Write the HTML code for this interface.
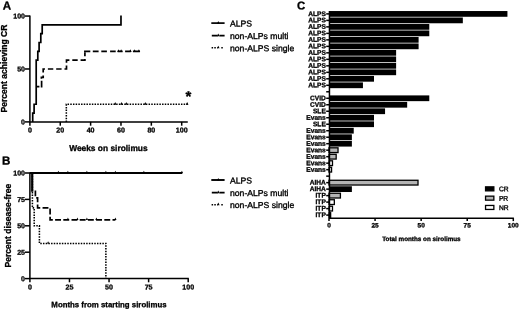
<!DOCTYPE html>
<html><head><meta charset="utf-8"><title>Figure</title>
<style>
html,body{margin:0;padding:0;background:#fff;}
body{width:520px;height:310px;overflow:hidden;}
svg{display:block;font-family:"Liberation Sans",sans-serif;fill:#000;}
text{stroke:#000;stroke-width:0.35;}
.b{font-weight:bold;stroke:#000;stroke-width:0.3;}
.ln{fill:none;stroke:#000;stroke-width:1.7;}
.ax{fill:none;stroke:#000;stroke-width:1.5;}
</style></head><body>
<svg width="520" height="310" viewBox="0 0 520 310">
<rect width="520" height="310" fill="#fff"/>

<text x="2.7" y="9.45" font-size="11.6" text-anchor="start" class="b" transform="rotate(0.03 2.7 9.45)">A</text>
<path class="ax" d="M29.9,15.450000000000001 V121.9 H187.77"/>
<line class="ax" x1="24.9" y1="121.9" x2="29.9" y2="121.9"/>
<text x="25.0" y="124.45" font-size="7.05" text-anchor="end" class="b" transform="rotate(0.03 25.0 124.45)">0</text>
<line class="ax" x1="24.9" y1="68.98" x2="29.9" y2="68.98"/>
<text x="25.0" y="71.53" font-size="7.05" text-anchor="end" class="b" transform="rotate(0.03 25.0 71.53)">50</text>
<line class="ax" x1="24.9" y1="16.05" x2="29.9" y2="16.05"/>
<text x="25.0" y="18.6" font-size="7.05" text-anchor="end" class="b" transform="rotate(0.03 25.0 18.6)">100</text>
<line class="ax" x1="29.9" y1="121.9" x2="29.9" y2="125.7"/>
<text x="29.9" y="132.6" font-size="7.1" text-anchor="middle" class="b" transform="rotate(0.03 29.9 132.6)">0</text>
<line class="ax" x1="60.26" y1="121.9" x2="60.26" y2="125.7"/>
<text x="60.26" y="132.6" font-size="7.1" text-anchor="middle" class="b" transform="rotate(0.03 60.26 132.6)">20</text>
<line class="ax" x1="90.62" y1="121.9" x2="90.62" y2="125.7"/>
<text x="90.62" y="132.6" font-size="7.1" text-anchor="middle" class="b" transform="rotate(0.03 90.62 132.6)">40</text>
<line class="ax" x1="120.98" y1="121.9" x2="120.98" y2="125.7"/>
<text x="120.98" y="132.6" font-size="7.1" text-anchor="middle" class="b" transform="rotate(0.03 120.98 132.6)">60</text>
<line class="ax" x1="151.34" y1="121.9" x2="151.34" y2="125.7"/>
<text x="151.34" y="132.6" font-size="7.1" text-anchor="middle" class="b" transform="rotate(0.03 151.34 132.6)">80</text>
<line class="ax" x1="181.7" y1="121.9" x2="181.7" y2="125.7"/>
<text x="181.7" y="132.6" font-size="7.1" text-anchor="middle" class="b" transform="rotate(0.03 181.7 132.6)">100</text>
<text x="108.4" y="151.0" font-size="8.4" text-anchor="middle" class="b" transform="rotate(0.03 108.4 151.0)">Weeks on sirolimus</text>
<text class="b" font-size="8.55" text-anchor="middle" transform="translate(7.0,68.5) rotate(-90)">Percent achieving CR</text>
<path class="ln" d="M32.7,121.9 L32.7,113.08 L34.1,113.08 L34.1,104.26 L36.2,104.26 L36.2,60.15 L37.8,60.15 L37.8,51.33 L39.1,51.33 L39.1,42.51 L40.8,42.51 L40.8,33.69 L42.2,33.69 L42.2,24.87 L120.98,24.87 L120.98,15.450000000000001"/>
<path class="ln" d="M36.2,86.65 H39.4 M41.6,87.45 V80.65 M41.4,78.7 V77.3 H43.2 V75.6"/>
<path class="ln" d="M43.2,72.6 L43.2,68.98 L66.5,68.98 L66.5,60.19 L84.9,60.19 L84.9,52.15" stroke-dasharray="5.4 2.9"/>
<path class="ln" d="M84.05,51.3 H90.3 M92.8,51.3 H98.6 M101.3,51.3 H106.9 M110.1,51.3 H115.7 M117.6,51.3 H122.6 M125.1,51.3 H130.8 M132.9,51.3 H139.9"/>
<path class="ln" d="M66.33,121.9 L66.33,104.22 L187.77,104.22" stroke-dasharray="1.5 1.2" style="stroke-width:1.55"/>
<path d="M117.25,51.9 l1.3,-2.7 l1.3,2.7 z" fill="#000"/>
<path d="M119.83,51.9 l1.3,-2.7 l1.3,2.7 z" fill="#000"/>
<path d="M129.09,51.9 l1.3,-2.7 l1.3,2.7 z" fill="#000"/>
<path d="M133.34,51.9 l1.3,-2.7 l1.3,2.7 z" fill="#000"/>
<path d="M137.59,51.9 l1.3,-2.7 l1.3,2.7 z" fill="#000"/>
<path d="M113.91,104.82 l1.3,-2.7 l1.3,2.7 z" fill="#000"/>
<path d="M120.14,104.82 l1.3,-2.7 l1.3,2.7 z" fill="#000"/>
<path d="M124.99000000000001,104.82 l1.3,-2.7 l1.3,2.7 z" fill="#000"/>
<path d="M143.97,104.82 l1.3,-2.7 l1.3,2.7 z" fill="#000"/>
<path d="M185.85999999999999,104.82 l1.3,-2.7 l1.3,2.7 z" fill="#000"/>
<text x="188.3" y="101.5" font-size="15" text-anchor="middle" class="b" transform="rotate(0.03 188.3 101.5)">*</text>
<path class="ln" d="M211.3,23.1 H224.6" style="stroke-width:1.7"/>
<path class="ln" d="M211.8,35.650000000000006 H217.7 M219.4,35.650000000000006 H224.6"/>
<path class="ln" d="M211.6,47.75 H217.6 M221.3,47.75 H223" stroke-dasharray="1.5 1.2" style="stroke-width:1.55"/>
<path d="M217.0,23.7 l1.3,-2.7 l1.3,2.7 z" fill="#000"/>
<text x="230" y="26.5" font-size="8.64" text-anchor="start" transform="rotate(0.03 230 23.1)">ALPS</text>
<path d="M217.0,36.25 l1.3,-2.7 l1.3,2.7 z" fill="#000"/>
<text x="230" y="39.05" font-size="8.64" text-anchor="start" transform="rotate(0.03 230 35.65)">non-ALPs multi</text>
<path d="M217.0,48.35 l1.3,-2.7 l1.3,2.7 z" fill="#000"/>
<text x="230" y="51.15" font-size="8.64" text-anchor="start" transform="rotate(0.03 230 47.75)">non-ALPS single</text>
<text x="2.1" y="164.5" font-size="11.6" text-anchor="start" class="b" transform="rotate(0.03 2.1 164.5)">B</text>
<path class="ax" d="M29.9,172.4 V278.6 H188.79999999999998"/>
<line class="ax" x1="24.9" y1="278.6" x2="29.9" y2="278.6"/>
<text x="25.0" y="281.15000000000003" font-size="7.05" text-anchor="end" class="b" transform="rotate(0.03 25.0 281.15000000000003)">0</text>
<line class="ax" x1="24.9" y1="252.2" x2="29.9" y2="252.2"/>
<text x="25.0" y="254.75" font-size="7.05" text-anchor="end" class="b" transform="rotate(0.03 25.0 254.75)">25</text>
<line class="ax" x1="24.9" y1="225.8" x2="29.9" y2="225.8"/>
<text x="25.0" y="228.35000000000002" font-size="7.05" text-anchor="end" class="b" transform="rotate(0.03 25.0 228.35000000000002)">50</text>
<line class="ax" x1="24.9" y1="199.4" x2="29.9" y2="199.4"/>
<text x="25.0" y="201.95000000000002" font-size="7.05" text-anchor="end" class="b" transform="rotate(0.03 25.0 201.95000000000002)">75</text>
<line class="ax" x1="24.9" y1="173.0" x2="29.9" y2="173.0"/>
<text x="25.0" y="175.55" font-size="7.05" text-anchor="end" class="b" transform="rotate(0.03 25.0 175.55)">100</text>
<line class="ax" x1="29.9" y1="278.6" x2="29.9" y2="282.3"/>
<text x="29.9" y="289.4" font-size="7.1" text-anchor="middle" class="b" transform="rotate(0.03 29.9 289.4)">0</text>
<line class="ax" x1="69.47" y1="278.6" x2="69.47" y2="282.3"/>
<text x="69.47" y="289.4" font-size="7.1" text-anchor="middle" class="b" transform="rotate(0.03 69.47 289.4)">25</text>
<line class="ax" x1="109.05" y1="278.6" x2="109.05" y2="282.3"/>
<text x="109.05" y="289.4" font-size="7.1" text-anchor="middle" class="b" transform="rotate(0.03 109.05 289.4)">50</text>
<line class="ax" x1="148.62" y1="278.6" x2="148.62" y2="282.3"/>
<text x="148.62" y="289.4" font-size="7.1" text-anchor="middle" class="b" transform="rotate(0.03 148.62 289.4)">75</text>
<line class="ax" x1="188.2" y1="278.6" x2="188.2" y2="282.3"/>
<text x="188.2" y="289.4" font-size="7.1" text-anchor="middle" class="b" transform="rotate(0.03 188.2 289.4)">100</text>
<text x="109" y="307.2" font-size="7.83" text-anchor="middle" class="b" transform="rotate(0.03 109 307.2)">Months from starting sirolimus</text>
<text class="b" font-size="8.55" text-anchor="middle" transform="translate(10.7,225.6) rotate(-90)">Percent disease-free</text>
<path class="ln" d="M29.9,173.0 H182.34" style="stroke-width:1.9"/>
<path d="M57.29,173.0 l1.1,-2.3 l1.1,2.3 z" fill="#000"/>
<path d="M66.79,173.0 l1.1,-2.3 l1.1,2.3 z" fill="#000"/>
<path d="M85.79,173.0 l1.1,-2.3 l1.1,2.3 z" fill="#000"/>
<path d="M104.78,173.0 l1.1,-2.3 l1.1,2.3 z" fill="#000"/>
<path d="M114.28,173.0 l1.1,-2.3 l1.1,2.3 z" fill="#000"/>
<path d="M142.78,173.0 l1.1,-2.3 l1.1,2.3 z" fill="#000"/>
<path d="M180.77,173.0 l1.1,-2.3 l1.1,2.3 z" fill="#000"/>
<path d="M32.2,173 V191.8" stroke="#000" stroke-width="2.2" fill="none"/>
<path class="ln" d="M35.4,190.4 L35.4,197.8 L37.6,197.8 L37.6,207.85 L50.1,207.85 L50.1,219.89 L115.38,219.89" stroke-dasharray="5.9 2.3"/>
<path d="M66.79,219.89 l1.1,-2.3 l1.1,2.3 z" fill="#000"/>
<path d="M76.29,219.89 l1.1,-2.3 l1.1,2.3 z" fill="#000"/>
<path d="M85.79,219.89 l1.1,-2.3 l1.1,2.3 z" fill="#000"/>
<path d="M95.29,219.89 l1.1,-2.3 l1.1,2.3 z" fill="#000"/>
<path d="M114.28,219.89 l1.1,-2.3 l1.1,2.3 z" fill="#000"/>
<path d="M47.0,243.44 l1.1,-2.3 l1.1,2.3 z" fill="#000"/>
<path class="ln" d="M32.4,173.0 L32.4,207.85 L34.2,207.85 L34.2,225.8 L39.4,225.8 L39.4,243.44 L105.88,243.44 L105.88,278.6" stroke-dasharray="1.5 1.2" style="stroke-width:1.55"/>
<path class="ln" d="M211.3,180.0 H224.6" style="stroke-width:1.9"/>
<path class="ln" d="M211.8,192.55 H217.7 M219.4,192.55 H224.6"/>
<path class="ln" d="M211.6,204.65 H217.6 M221.3,204.65 H223" stroke-dasharray="1.5 1.2" style="stroke-width:1.55"/>
<path d="M217.0,180.6 l1.3,-2.7 l1.3,2.7 z" fill="#000"/>
<text x="230" y="183.4" font-size="8.64" text-anchor="start" transform="rotate(0.03 230 180.0)">ALPS</text>
<path d="M217.0,193.15 l1.3,-2.7 l1.3,2.7 z" fill="#000"/>
<text x="230" y="195.95" font-size="8.64" text-anchor="start" transform="rotate(0.03 230 192.55)">non-ALPs multi</text>
<path d="M217.0,205.25 l1.3,-2.7 l1.3,2.7 z" fill="#000"/>
<text x="230" y="208.05" font-size="8.64" text-anchor="start" transform="rotate(0.03 230 204.65)">non-ALPS single</text>
<text x="296.9" y="9.4" font-size="11.4" text-anchor="start" class="b" transform="rotate(0.03 296.9 9.4)">C</text>
<line class="ax" x1="326.2" y1="13.9" x2="329.0" y2="13.9"/>
<rect x="329.0" y="11.03" width="178.43" height="5.75" fill="#000"/>
<text x="325.8" y="15.9" font-size="6.6" text-anchor="end" class="b" transform="rotate(0.03 329.0 13.9)">ALPS</text>
<line class="ax" x1="326.2" y1="20.39" x2="329.0" y2="20.39"/>
<rect x="329.0" y="17.52" width="133.83" height="5.75" fill="#000"/>
<text x="325.8" y="22.39" font-size="6.6" text-anchor="end" class="b" transform="rotate(0.03 329.0 20.39)">ALPS</text>
<line class="ax" x1="326.2" y1="26.88" x2="329.0" y2="26.88"/>
<rect x="329.0" y="24.01" width="100.29" height="5.75" fill="#000"/>
<text x="325.8" y="28.88" font-size="6.6" text-anchor="end" class="b" transform="rotate(0.03 329.0 26.88)">ALPS</text>
<line class="ax" x1="326.2" y1="33.37" x2="329.0" y2="33.37"/>
<rect x="329.0" y="30.49" width="100.29" height="5.75" fill="#000"/>
<text x="325.8" y="35.37" font-size="6.6" text-anchor="end" class="b" transform="rotate(0.03 329.0 33.37)">ALPS</text>
<line class="ax" x1="326.2" y1="39.86" x2="329.0" y2="39.86"/>
<rect x="329.0" y="36.98" width="89.6" height="5.75" fill="#000"/>
<text x="325.8" y="41.86" font-size="6.6" text-anchor="end" class="b" transform="rotate(0.03 329.0 39.86)">ALPS</text>
<line class="ax" x1="326.2" y1="46.35" x2="329.0" y2="46.35"/>
<rect x="329.0" y="43.48" width="89.6" height="5.75" fill="#000"/>
<text x="325.8" y="48.35" font-size="6.6" text-anchor="end" class="b" transform="rotate(0.03 329.0 46.35)">ALPS</text>
<line class="ax" x1="326.2" y1="52.84" x2="329.0" y2="52.84"/>
<rect x="329.0" y="49.96" width="67.12" height="5.75" fill="#000"/>
<text x="325.8" y="54.84" font-size="6.6" text-anchor="end" class="b" transform="rotate(0.03 329.0 52.84)">ALPS</text>
<line class="ax" x1="326.2" y1="59.33" x2="329.0" y2="59.33"/>
<rect x="329.0" y="56.45" width="67.12" height="5.75" fill="#000"/>
<text x="325.8" y="61.33" font-size="6.6" text-anchor="end" class="b" transform="rotate(0.03 329.0 59.33)">ALPS</text>
<line class="ax" x1="326.2" y1="65.82" x2="329.0" y2="65.82"/>
<rect x="329.0" y="62.95" width="67.12" height="5.75" fill="#000"/>
<text x="325.8" y="67.82" font-size="6.6" text-anchor="end" class="b" transform="rotate(0.03 329.0 65.82)">ALPS</text>
<line class="ax" x1="326.2" y1="72.31" x2="329.0" y2="72.31"/>
<rect x="329.0" y="69.44" width="67.12" height="5.75" fill="#000"/>
<text x="325.8" y="74.31" font-size="6.6" text-anchor="end" class="b" transform="rotate(0.03 329.0 72.31)">ALPS</text>
<line class="ax" x1="326.2" y1="78.8" x2="329.0" y2="78.8"/>
<rect x="329.0" y="75.93" width="45.0" height="5.75" fill="#000"/>
<text x="325.8" y="80.8" font-size="6.6" text-anchor="end" class="b" transform="rotate(0.03 329.0 78.8)">ALPS</text>
<line class="ax" x1="326.2" y1="85.29" x2="329.0" y2="85.29"/>
<rect x="329.0" y="82.42" width="33.94" height="5.75" fill="#000"/>
<text x="325.8" y="87.29" font-size="6.6" text-anchor="end" class="b" transform="rotate(0.03 329.0 85.29)">ALPS</text>
<line class="ax" x1="326.2" y1="91.78" x2="329.0" y2="91.78"/>
<line class="ax" x1="326.2" y1="98.27" x2="329.0" y2="98.27"/>
<rect x="329.0" y="95.4" width="100.29" height="5.75" fill="#000"/>
<text x="325.8" y="100.27" font-size="6.6" text-anchor="end" class="b" transform="rotate(0.03 329.0 98.27)">CVID</text>
<line class="ax" x1="326.2" y1="104.76" x2="329.0" y2="104.76"/>
<rect x="329.0" y="101.89" width="78.17" height="5.75" fill="#000"/>
<text x="325.8" y="106.76" font-size="6.6" text-anchor="end" class="b" transform="rotate(0.03 329.0 104.76)">CVID</text>
<line class="ax" x1="326.2" y1="111.25" x2="329.0" y2="111.25"/>
<rect x="329.0" y="108.38" width="56.06" height="5.75" fill="#000"/>
<text x="325.8" y="113.25" font-size="6.6" text-anchor="end" class="b" transform="rotate(0.03 329.0 111.25)">SLE</text>
<line class="ax" x1="326.2" y1="117.74" x2="329.0" y2="117.74"/>
<rect x="329.0" y="114.87" width="45.0" height="5.75" fill="#000"/>
<text x="325.8" y="119.74" font-size="6.6" text-anchor="end" class="b" transform="rotate(0.03 329.0 117.74)">Evans</text>
<line class="ax" x1="326.2" y1="124.23" x2="329.0" y2="124.23"/>
<rect x="329.0" y="121.36" width="45.0" height="5.75" fill="#000"/>
<text x="325.8" y="126.23" font-size="6.6" text-anchor="end" class="b" transform="rotate(0.03 329.0 124.23)">SLE</text>
<line class="ax" x1="326.2" y1="130.72" x2="329.0" y2="130.72"/>
<rect x="329.0" y="127.84" width="24.73" height="5.75" fill="#000"/>
<text x="325.8" y="132.72" font-size="6.6" text-anchor="end" class="b" transform="rotate(0.03 329.0 130.72)">Evans</text>
<line class="ax" x1="326.2" y1="137.21" x2="329.0" y2="137.21"/>
<rect x="329.0" y="134.34" width="22.88" height="5.75" fill="#000"/>
<text x="325.8" y="139.21" font-size="6.6" text-anchor="end" class="b" transform="rotate(0.03 329.0 137.21)">Evans</text>
<line class="ax" x1="326.2" y1="143.7" x2="329.0" y2="143.7"/>
<rect x="329.0" y="140.83" width="22.88" height="5.75" fill="#000"/>
<text x="325.8" y="145.7" font-size="6.6" text-anchor="end" class="b" transform="rotate(0.03 329.0 143.7)">Evans</text>
<line class="ax" x1="326.2" y1="150.19" x2="329.0" y2="150.19"/>
<rect x="329.0" y="147.81" width="9.02" height="4.75" fill="#b4b4b4" stroke="#000" stroke-width="1.3"/>
<text x="325.8" y="152.19" font-size="6.6" text-anchor="end" class="b" transform="rotate(0.03 329.0 150.19)">Evans</text>
<line class="ax" x1="326.2" y1="156.68" x2="329.0" y2="156.68"/>
<rect x="329.0" y="154.31" width="7.17" height="4.75" fill="#b4b4b4" stroke="#000" stroke-width="1.3"/>
<text x="325.8" y="158.68" font-size="6.6" text-anchor="end" class="b" transform="rotate(0.03 329.0 156.68)">Evans</text>
<line class="ax" x1="326.2" y1="163.17" x2="329.0" y2="163.17"/>
<rect x="329.0" y="160.8" width="3.49" height="4.75" fill="#fff" stroke="#000" stroke-width="1.3"/>
<text x="325.8" y="165.17" font-size="6.6" text-anchor="end" class="b" transform="rotate(0.03 329.0 163.17)">Evans</text>
<line class="ax" x1="326.2" y1="169.66" x2="329.0" y2="169.66"/>
<rect x="329.0" y="167.28" width="2.56" height="4.75" fill="#fff" stroke="#000" stroke-width="1.3"/>
<text x="325.8" y="171.66" font-size="6.6" text-anchor="end" class="b" transform="rotate(0.03 329.0 169.66)">Evans</text>
<line class="ax" x1="326.2" y1="176.15" x2="329.0" y2="176.15"/>
<line class="ax" x1="326.2" y1="182.64" x2="329.0" y2="182.64"/>
<rect x="329.0" y="180.27" width="89.0" height="4.75" fill="#b4b4b4" stroke="#000" stroke-width="1.3"/>
<text x="325.8" y="184.64" font-size="6.6" text-anchor="end" class="b" transform="rotate(0.03 329.0 182.64)">AIHA</text>
<line class="ax" x1="326.2" y1="189.13" x2="329.0" y2="189.13"/>
<rect x="329.0" y="186.26" width="22.88" height="5.75" fill="#000"/>
<text x="325.8" y="191.13" font-size="6.6" text-anchor="end" class="b" transform="rotate(0.03 329.0 189.13)">AIHA</text>
<line class="ax" x1="326.2" y1="195.62" x2="329.0" y2="195.62"/>
<rect x="329.0" y="193.25" width="11.41" height="4.75" fill="#b4b4b4" stroke="#000" stroke-width="1.3"/>
<text x="325.8" y="197.62" font-size="6.6" text-anchor="end" class="b" transform="rotate(0.03 329.0 195.62)">ITP</text>
<line class="ax" x1="326.2" y1="202.11" x2="329.0" y2="202.11"/>
<rect x="329.0" y="199.74" width="5.33" height="4.75" fill="#fff" stroke="#000" stroke-width="1.3"/>
<text x="325.8" y="204.11" font-size="6.6" text-anchor="end" class="b" transform="rotate(0.03 329.0 202.11)">ITP</text>
<line class="ax" x1="326.2" y1="208.6" x2="329.0" y2="208.6"/>
<rect x="329.0" y="206.23" width="3.49" height="4.75" fill="#fff" stroke="#000" stroke-width="1.3"/>
<text x="325.8" y="210.6" font-size="6.6" text-anchor="end" class="b" transform="rotate(0.03 329.0 208.6)">ITP</text>
<line class="ax" x1="326.2" y1="215.09" x2="329.0" y2="215.09"/>
<rect x="329.0" y="212.72" width="1.64" height="4.75" fill="#fff" stroke="#000" stroke-width="1.3"/>
<text x="325.8" y="217.09" font-size="6.6" text-anchor="end" class="b" transform="rotate(0.03 329.0 215.09)">ITP</text>
<path class="ax" d="M329.45,10.955000000000002 V218.2 H513.9"/>
<line class="ax" x1="329.0" y1="218.2" x2="329.0" y2="221.1"/>
<text x="329.0" y="227.5" font-size="6.5" text-anchor="middle" class="b" transform="rotate(0.03 329.0 227.5)">0</text>
<line class="ax" x1="375.07" y1="218.2" x2="375.07" y2="221.1"/>
<text x="375.07" y="227.5" font-size="6.5" text-anchor="middle" class="b" transform="rotate(0.03 375.07 227.5)">25</text>
<line class="ax" x1="421.15" y1="218.2" x2="421.15" y2="221.1"/>
<text x="421.15" y="227.5" font-size="6.5" text-anchor="middle" class="b" transform="rotate(0.03 421.15 227.5)">50</text>
<line class="ax" x1="467.23" y1="218.2" x2="467.23" y2="221.1"/>
<text x="467.23" y="227.5" font-size="6.5" text-anchor="middle" class="b" transform="rotate(0.03 467.23 227.5)">75</text>
<line class="ax" x1="513.3" y1="218.2" x2="513.3" y2="221.1"/>
<text x="513.3" y="227.5" font-size="6.5" text-anchor="middle" class="b" transform="rotate(0.03 513.3 227.5)">100</text>
<text x="421.4" y="241" font-size="6.32" text-anchor="middle" class="b" transform="rotate(0.03 421.4 241)">Total months on sirolimus</text>
<rect x="485.55" y="186.85" width="8.3" height="4.0" fill="#000" stroke="#000" stroke-width="1.3"/>
<text x="498.9" y="191.35" font-size="6.7" text-anchor="start" transform="rotate(0.03 498.9 191.35)">CR</text>
<rect x="485.55" y="196.15" width="8.3" height="4.0" fill="#b4b4b4" stroke="#000" stroke-width="1.3"/>
<text x="498.9" y="200.65" font-size="6.7" text-anchor="start" transform="rotate(0.03 498.9 200.65)">PR</text>
<rect x="485.55" y="205.45" width="8.3" height="4.0" fill="#fff" stroke="#000" stroke-width="1.3"/>
<text x="498.9" y="209.95" font-size="6.7" text-anchor="start" transform="rotate(0.03 498.9 209.95)">NR</text>
</svg></body></html>
